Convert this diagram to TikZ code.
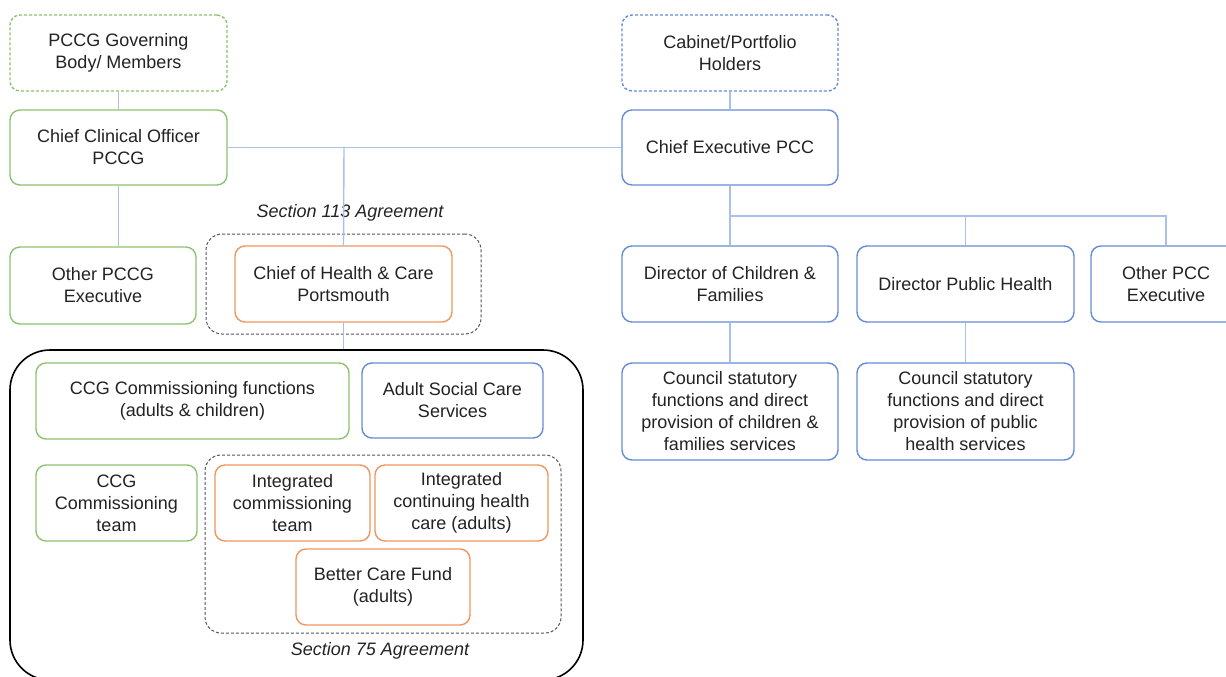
\documentclass[tikz,border=0pt]{standalone}
\usepackage{fontspec}
\setmainfont{Liberation Sans}
\usetikzlibrary{positioning,calc}
\definecolor{gr}{RGB}{140,195,110}
\definecolor{bl}{RGB}{100,140,215}
\definecolor{orn}{RGB}{240,150,95}
\definecolor{ln}{RGB}{170,192,232}
\definecolor{dk}{RGB}{80,85,100}
\definecolor{txt}{RGB}{35,35,35}
\begin{document}
\begin{tikzpicture}[x=1pt,y=-1pt,
  every node/.style={font=\fontsize{18}{22}\selectfont, text=txt, align=center, inner sep=0pt},
  box/.style={draw, rounded corners=10pt, line width=1.4pt, fill=white},
  gbox/.style={box, draw=gr},
  bbox/.style={box, draw=bl},
  obox/.style={box, draw=orn},
  fine/.style={dash pattern=on 3pt off 2pt},
  conn/.style={draw=ln, line width=1.4pt},
  grp/.style={draw=dk, fine, line width=1pt, rounded corners=16pt},
  lab/.style={font=\fontsize{18}{20}\selectfont\itshape}]
\useasboundingbox (0,0) rectangle (1226,677);
% group boxes
\node[grp, minimum width=275, minimum height=100] (s113) at (343.5,284) {};
\node[draw=black, line width=1.6pt, rounded corners=40pt, minimum width=573, minimum height=330] (big) at (296.5,515) {};
\node[grp, minimum width=356, minimum height=178] (s75) at (383,544) {};
% nodes
\node[gbox, fine, minimum width=217, minimum height=76] (gov) at (118.5,53) {PCCG Governing\\Body/ Members};
\node[gbox, minimum width=217, minimum height=75] (cco) at (118.5,147.5) {Chief Clinical Officer\\PCCG};
\node[gbox, minimum width=186, minimum height=77] (opccg) at (103,285.5) {Other PCCG\\Executive};
\node[obox, minimum width=217, minimum height=76] (choh) at (343.5,284) {Chief of Health \& Care\\Portsmouth};
\node[bbox, fine, minimum width=216, minimum height=76] (cab) at (730,53) {Cabinet/Portfolio\\Holders};
\node[bbox, minimum width=216, minimum height=75] (cep) at (730,147.5) {Chief Executive PCC};
\node[bbox, minimum width=216, minimum height=76] (dcf) at (730,284) {Director of Children \&\\Families};
\node[bbox, minimum width=217, minimum height=76] (dph) at (965.5,284) {Director Public Health};
\node[bbox, minimum width=150, minimum height=76] (opcc) at (1166,284) {Other PCC\\Executive};
\node[bbox, minimum width=216, minimum height=97] (csf1) at (730,411.5) {Council statutory\\functions and direct\\provision of children \&\\families services};
\node[bbox, minimum width=217, minimum height=97] (csf2) at (965.5,411.5) {Council statutory\\functions and direct\\provision of public\\health services};
\node[gbox, minimum width=313, minimum height=76] (ccgf) at (192.5,401) {CCG Commissioning functions\\(adults \& children)};
\node[bbox, minimum width=181, minimum height=75] (asc) at (452.5,400.5) {Adult Social Care\\Services};
\node[gbox, minimum width=161, minimum height=76] (ccgt) at (116.5,503) {CCG\\Commissioning\\team};
\node[obox, minimum width=155, minimum height=76] (ict) at (292.5,503) {Integrated\\commissioning\\team};
\node[obox, minimum width=173, minimum height=76] (ichc) at (461.5,503) {Integrated\\continuing health\\care (adults)};
\node[obox, minimum width=174, minimum height=76] (bcf) at (383,587) {Better Care Fund\\(adults)};
% labels
\node[lab] (l113) at (350,213) {Section 113 Agreement};
\node[lab] (l75) at (380,651) {Section 75 Agreement};
% connectors
\coordinate (hj) at (344,147.5);
\coordinate (pj) at (730,216);
\coordinate (pr) at (1166,216);
\draw[conn] (gov.south) -- (cco.north);
\draw[conn] (cco.south) -- (cco.south |- opccg.north);
\draw[conn] (cco.east) -- (cep.west);
\draw[conn] (hj) -- (choh.north);
\draw[conn] (choh.south) -- (choh.south |- big.north);
\draw[conn] (cab.south) -- (cep.north);
\draw[conn] (cep.south) -- (dcf.north);
\draw[conn] (pj) -- (pr) -- (opcc.north);
\draw[conn] (pj -| dph.north) -- (dph.north);
\draw[conn] (dcf.south) -- (csf1.north);
\draw[conn] (dph.south) -- (csf2.north);
\end{tikzpicture}
\end{document}
